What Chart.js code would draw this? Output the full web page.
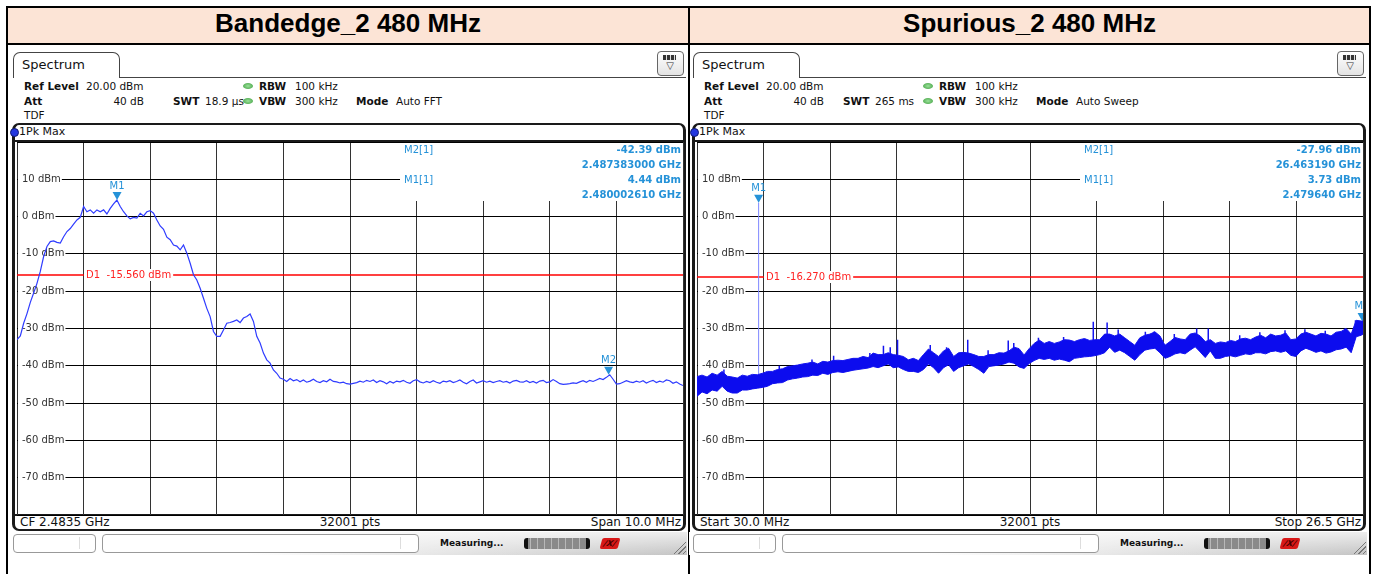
<!DOCTYPE html>
<html>
<head>
<meta charset="utf-8">
<script src="https://cdn.jsdelivr.net/npm/chart.js@4/dist/chart.umd.min.js"></script>
<style>
body { margin:0; background:#fff; width:1377px; height:574px; overflow:hidden; position:relative;
       font-family:"DejaVu Sans", Verdana, sans-serif; color:#111; }
canvas { position:absolute; }
</style>
</head>
<body>
<script>
// ---- y axis (dBm) ----
const yMin = -80, yMax = 20;
const yGridValues = [20, 10, 0, -10, -20, -30, -40, -50, -60, -70, -80];
const yLabelValues = [10, 0, -10, -20, -30, -40, -50, -60, -70];

// ---- Bandedge: 2.4785 .. 2.4885 GHz, levels every 0.05 MHz ----
const bandedgeStartGHz = 2.4785, bandedgeStopGHz = 2.4885;
const bandedgeLevel = [
  -33.0,-32.0,-28.6,-26.0,-23.0,-20.5,-17.9,-14.7,-10.7,-8.0,
  -6.7,-6.5,-6.9,-7.1,-5.4,-4.0,-3.2,-2.0,-0.9,-0.2,
  2.7,1.3,1.8,0.9,1.8,1.3,1.8,0.7,2.2,3.4,
  4.44,2.7,1.3,0.2,-0.6,-0.2,-0.4,0.9,0.2,1.3,
  1.6,0.9,-0.9,-2.5,-3.4,-5.5,-6.2,-7.6,-7.9,-8.9,
  -7.6,-9.8,-12.5,-15.6,-17.0,-19.2,-21.9,-24.6,-26.8,-30.8,
  -32.1,-32.1,-30.4,-28.6,-28.4,-28.1,-27.7,-28.4,-27.2,-26.8,
  -26.1,-28.1,-32.1,-33.9,-36.6,-38.4,-39.3,-41.1,-42.0,-43.3,
  -43.6,-44.2,-43.4,-44.0,-43.7,-44.3,-43.8,-44.4,-44.1,-43.6,
  -44.2,-44.5,-44.0,-44.3,-43.6,-44.2,-44.3,-44.6,-44.4,-44.8,
  -44.9,-44.7,-44.5,-44.1,-44.4,-43.9,-44.2,-43.8,-44.5,-44.0,
  -44.3,-44.8,-44.2,-44.6,-44.1,-44.3,-43.9,-44.4,-44.7,-44.0,
  -43.7,-44.3,-44.6,-44.2,-44.5,-44.0,-44.4,-44.7,-44.1,-44.3,
  -44.0,-44.5,-44.2,-43.8,-44.4,-44.8,-44.2,-43.8,-44.6,-44.3,
  -44.0,-44.4,-44.1,-44.5,-44.2,-44.0,-44.4,-44.2,-44.6,-44.1,
  -43.9,-44.3,-44.4,-44.0,-44.5,-44.2,-44.6,-44.1,-43.9,-44.5,
  -44.3,-43.7,-44.2,-44.8,-45.0,-44.9,-44.8,-44.6,-44.7,-44.3,
  -44.0,-44.4,-43.9,-44.2,-43.8,-43.4,-43.7,-43.1,-42.4,-43.6,
  -44.9,-44.8,-44.4,-44.0,-44.3,-44.5,-44.1,-44.4,-44.0,-44.6,
  -44.2,-43.9,-44.5,-44.1,-44.4,-43.8,-44.0,-44.7,-44.3,-44.9,
  -45.3
];
const bandedgeMarkerName = ['M1', 'M2'];
const bandedgeMarkerFreqGHz = [2.480002610, 2.487383000];
const bandedgeMarkerLevel = [4.44, -42.39];
const bandedgeD1 = -15.56;

// ---- Spurious: 30 MHz .. 26.5 GHz, trace envelope every 0.2 GHz ----
const spurStartGHz = 0.03, spurStopGHz = 26.5, spurStepGHz = 0.2;
const spurUpper = [
  -42.9,-42.5,-43.0,-42.0,-42.5,-41.5,-42.8,-43.0,-43.3,-42.5,
  -42.8,-42.3,-42.4,-42.0,-41.5,-41.5,-41.0,-40.8,-40.2,-40.0,
  -39.8,-39.5,-39.3,-39.0,-39.5,-38.8,-39.0,-38.6,-38.5,-38.6,
  -38.3,-38.0,-38.0,-37.5,-37.8,-36.6,-37.0,-37.0,-36.5,-37.0,
  -37.2,-37.5,-38.4,-38.0,-38.6,-37.0,-35.5,-36.5,-37.5,-36.0,
  -35.3,-37.5,-36.5,-36.4,-36.6,-37.0,-37.5,-37.5,-37.0,-37.0,
  -36.5,-36.6,-36.0,-35.0,-35.4,-37.1,-35.4,-34.0,-33.1,-34.0,
  -33.5,-34.0,-33.6,-33.0,-33.1,-33.5,-33.0,-32.7,-33.2,-33.0,
  -33.0,-31.5,-31.5,-32.0,-31.5,-32.5,-33.5,-34.5,-32.5,-31.8,
  -31.5,-30.9,-32.0,-34.5,-33.5,-32.4,-32.8,-33.0,-31.5,-31.2,
  -32.0,-33.5,-33.0,-34.0,-33.6,-33.8,-33.2,-33.5,-32.8,-32.6,
  -33.0,-32.3,-31.8,-32.5,-31.5,-32.0,-31.8,-31.2,-33.0,-32.8,
  -31.5,-31.0,-31.5,-32.0,-31.3,-31.5,-32.0,-31.0,-30.8,-30.0,
  -31.5,-27.8,-28.0,-27.9
];
const spurLower = [
  -48.2,-47.0,-47.5,-46.5,-46.8,-45.5,-46.8,-47.3,-47.3,-46.5,
  -46.5,-46.2,-46.0,-45.8,-45.5,-44.8,-44.6,-44.5,-43.8,-43.5,
  -43.3,-43.0,-42.9,-42.5,-42.6,-42.0,-42.3,-41.8,-41.6,-41.8,
  -41.5,-41.2,-41.0,-40.8,-40.6,-40.2,-40.5,-40.0,-39.5,-40.5,
  -40.3,-41.0,-41.5,-41.5,-41.8,-41.0,-39.5,-40.5,-42.0,-40.5,
  -39.7,-41.5,-40.5,-40.0,-39.5,-40.2,-41.0,-42.0,-40.2,-40.0,
  -39.8,-39.5,-39.0,-39.3,-40.3,-40.7,-39.4,-38.6,-38.0,-38.3,
  -38.0,-38.5,-38.2,-38.5,-38.9,-38.0,-37.8,-37.6,-37.5,-37.3,
  -37.0,-36.5,-35.0,-36.4,-35.8,-36.5,-37.5,-38.5,-37.0,-35.8,
  -35.5,-35.3,-36.5,-38.0,-37.5,-36.8,-36.5,-36.8,-35.8,-34.9,
  -36.3,-37.8,-36.0,-38.0,-38.0,-37.5,-37.3,-37.6,-37.2,-36.8,
  -37.0,-36.5,-36.5,-36.8,-36.2,-36.0,-36.4,-36.0,-37.2,-37.5,
  -36.0,-35.3,-35.8,-36.4,-36.0,-36.6,-36.3,-35.7,-35.5,-35.0,
  -36.5,-32.2,-31.8,-31.5
];
// narrow peaks sticking out of the noise band
const spurSpikeFreqGHz = [1.10, 3.30, 4.60, 5.46, 6.90, 7.44, 7.71, 8.00, 9.30, 9.95, 10.79, 11.60, 12.40, 12.62,
  13.60, 14.60, 15.78, 16.33, 16.77, 17.85, 18.20, 19.00, 19.89, 20.35, 21.60, 22.40, 23.40, 24.19, 25.00, 25.78, 26.20];
const spurSpikeLevel = [-41.0, -40.0, -38.3, -37.3, -36.6, -34.6, -35.0, -33.0, -34.4, -35.0, -33.0, -35.8, -33.2, -33.9,
  -32.5, -32.3, -28.2, -28.4, -30.3, -30.9, -30.8, -31.5, -30.0, -30.0, -31.8, -31.0, -30.5, -30.2, -30.6, -30.0, -27.8];
const spurCarrierFreqGHz = 2.479640, spurCarrierBase = -43.5;
const spurMarkerName = ['M1', 'M2'];
const spurMarkerFreqGHz = [2.479640, 26.463190];
const spurMarkerLevel = [3.73, -27.96];
const spurD1 = -16.27;

const MARK = '#2592d8';

// ---------- page helpers ----------
function el(css, text) {
  const e = document.createElement('div');
  e.style.cssText = 'position:absolute;' + css;
  if (text != null) e.textContent = text;
  document.body.appendChild(e);
  return e;
}
function txt(s, x, yc, o = {}) {
  let tr = o.right ? 'transform:translateX(-100%);' : (o.center ? 'transform:translateX(-50%);' : '');
  return el(`left:${x}px;top:${yc - 8}px;height:16px;line-height:16px;white-space:pre;font-size:${o.size || 10.5}px;` +
    `font-weight:${o.bold ? 'bold' : 'normal'};color:${o.color || '#111'};${tr}`, s);
}
function led(x, yc) {
  el(`left:${x - 5}px;top:${yc - 3}px;width:10px;height:6px;border-radius:50%;background:radial-gradient(#9be29b,#3a9a3a);`);
}

// table frame + titles
el('left:8px;top:8px;width:1361px;height:35px;background:#fce4d6;');
el('left:6px;top:6px;width:1365px;height:2px;background:#000;');
el('left:6px;top:43px;width:1365px;height:2px;background:#000;');
el('left:6px;top:6px;width:2px;height:568px;background:#000;');
el('left:688px;top:6px;width:2px;height:568px;background:#000;');
el('left:1369px;top:6px;width:2px;height:568px;background:#000;');
el('left:8px;top:8px;width:680px;height:35px;line-height:39px;text-align:center;font:bold 26px "Liberation Sans",Arial,sans-serif;color:#000;', 'Bandedge_2 480 MHz');
el('left:690px;top:8px;width:679px;height:35px;line-height:39px;text-align:center;font:bold 26px "Liberation Sans",Arial,sans-serif;color:#000;', 'Spurious_2 480 MHz');

function buildPanel(p) {
  const ox = p.ox;
  // tab + toolbar
  el(`left:${13 + ox}px;top:52px;width:105px;height:25px;border:1px solid #444;border-bottom:none;border-radius:7px 7px 0 0;background:#fff;`);
  txt('Spectrum', 22 + ox, 65, { size: 13 });
  el(`left:${119 + ox}px;top:77px;width:567px;height:1px;background:#444;`);
  el(`left:${657 + ox}px;top:51px;width:25px;height:23px;border:1px solid #666;border-radius:4px;background:linear-gradient(#fff,#e4e4e4);`);
  el(`left:${663 + ox}px;top:55px;width:13px;height:5px;background:repeating-linear-gradient(90deg,#333 0 3px,#ddd 3px 4px);`);
  el(`left:${664 + ox}px;top:60px;width:12px;height:12px;font-size:10px;line-height:12px;text-align:center;color:#333;`, '▽');

  // settings
  txt('Ref Level', 24 + ox, 86, { bold: true }); txt('20.00 dBm', 86 + ox, 86);
  led(248 + ox, 86); txt('RBW', 259 + ox, 86, { bold: true }); txt('100 kHz', 295 + ox, 86);
  txt('Att', 24 + ox, 101, { bold: true }); txt('40 dB', 144 + ox, 101, { right: true });
  txt('SWT', p.swtX, 101, { bold: true }); txt(p.swt, p.swtX + 32, 101);
  led(248 + ox, 101); txt('VBW', 259 + ox, 101, { bold: true }); txt('300 kHz', 295 + ox, 101);
  txt('Mode', 356 + ox, 101, { bold: true }); txt(p.mode, 396 + ox, 101);
  txt('TDF', 24 + ox, 115);

  // diagram frame
  el(`left:${12 + ox}px;top:123px;width:674px;height:408px;box-sizing:border-box;border:2px solid #1a1a1a;border-left-width:3px;border-right-width:3px;border-radius:7px;`);
  el(`left:${10 + ox}px;top:128px;width:7px;height:7px;border-radius:50%;background:#2438e0;border:1px solid #101a70;`);
  txt('1Pk Max', 19 + ox, 132, { size: 11 });
  el(`left:${15 + ox}px;top:140px;width:668px;height:2px;background:#1a1a1a;`);
  el(`left:${15 + ox}px;top:514px;width:668px;height:2px;background:#1a1a1a;`);
  txt(p.bl, 20 + ox, 522, { size: 12 });
  txt('32001 pts', 350 + ox, 522, { size: 12, center: true });
  txt(p.br, 681 + ox, 522, { size: 12, right: true });

  // status bar
  el(`left:${9 + ox}px;top:532px;width:678px;height:23px;background:linear-gradient(rgba(255,255,255,.7),rgba(255,255,255,0)),linear-gradient(90deg,#fff 35%,#c4c4c4);`);
  el(`left:${13 + ox}px;top:534px;width:81px;height:17px;border:1px solid #999;border-radius:4px;background:#fff;`);
  el(`left:${79 + ox}px;top:537px;width:1px;height:12px;background:#ddd;`);
  el(`left:${102 + ox}px;top:534px;width:315px;height:17px;border:1px solid #999;border-radius:4px;background:#fff;`);
  el(`left:${400 + ox}px;top:537px;width:1px;height:12px;background:#ddd;`);
  txt('Measuring...', 440 + ox, 543, { size: 9, bold: true });
  el(`left:${524 + ox}px;top:538px;width:66px;height:11px;border-radius:3px;background:linear-gradient(90deg,#111 0 4px,transparent 4px calc(100% - 4px),#111 calc(100% - 4px)),repeating-linear-gradient(90deg,#8a8a8a 0 6px,#b8b8b8 6px 7px);`);
  el(`left:${601 + ox}px;top:538px;width:18px;height:11px;background:#d81818;transform:skewX(-15deg);border-radius:2px;font:bold italic 8px "DejaVu Sans";color:#400;line-height:11px;text-align:center;`, '/X/');
  el(`left:${672 + ox}px;top:540px;width:14px;height:14px;background:repeating-linear-gradient(135deg,transparent 0 2px,#777 2px 3px);clip-path:polygon(100% 0,100% 100%,0 100%);`);

  const cv = document.createElement('canvas');
  cv.width = 670; cv.height = 377;
  cv.style.left = (15 + ox) + 'px'; cv.style.top = '140px';
  document.body.appendChild(cv);
  return cv;
}

// ---------- chart overlay: labels, display line, marker readout ----------
const rsOverlay = {
  id: 'rsOverlay',
  beforeDatasetsDraw(chart, args, o) {
    const { ctx, chartArea: a, scales: { x, y } } = chart;
    ctx.save();
    ctx.beginPath(); ctx.rect(a.left, a.top, a.right - a.left, a.bottom - a.top); ctx.clip();
    ctx.textBaseline = 'middle';
    // readout field hides the grid in the upper right
    const boxL = a.left + 383;
    ctx.fillStyle = '#fff';
    ctx.fillRect(boxL, a.top + 1, a.right - boxL, 58);
    // level labels on the left
    ctx.font = '10px "DejaVu Sans"';
    ctx.textAlign = 'left';
    yLabelValues.forEach(v => {
      const py = y.getPixelForValue(v), t = v + ' dBm';
      const w = ctx.measureText(t).width;
      ctx.fillStyle = '#fff'; ctx.fillRect(a.left + 1, py - 6, w + 5, 12);
      ctx.fillStyle = '#333'; ctx.fillText(t, a.left + 5, py);
    });
    // display line D1
    const dy = Math.round(y.getPixelForValue(o.d1));
    ctx.strokeStyle = '#ff0000'; ctx.lineWidth = 1.5;
    ctx.beginPath(); ctx.moveTo(a.left, dy); ctx.lineTo(a.right, dy); ctx.stroke();
    const dt = 'D1  ' + o.d1.toFixed(3) + ' dBm';
    const dx = a.left + 69, dw = ctx.measureText(dt).width;
    ctx.fillStyle = '#fff'; ctx.fillRect(dx - 2, dy - 6, dw + 4, 12);
    ctx.fillStyle = '#ff2222'; ctx.fillText(dt, dx, dy);
    // marker readout
    const rows = [];
    for (let i = o.names.length - 1; i >= 0; i--) {
      rows.push([o.names[i] + '[1]', o.levels[i].toFixed(2) + ' dBm']);
      rows.push(['', o.freqs[i].toFixed(o.fdig) + ' GHz']);
    }
    rows.forEach((r, k) => {
      const py = a.top + 8 + k * 15;
      ctx.fillStyle = MARK;
      ctx.textAlign = 'left'; ctx.font = '10px "DejaVu Sans"';
      if (r[0]) ctx.fillText(r[0], boxL + 4, py);
      ctx.textAlign = 'right'; ctx.font = 'bold 10px "DejaVu Sans"';
      ctx.fillText(r[1], a.right - 2, py);
    });
    ctx.restore();
  },
  afterDatasetsDraw(chart, args, o) {
    const { ctx, chartArea: a, scales: { x, y } } = chart;
    ctx.save();
    ctx.beginPath(); ctx.rect(a.left, a.top, a.right - a.left, a.bottom - a.top); ctx.clip();
    ctx.fillStyle = MARK; ctx.font = '10px "DejaVu Sans"';
    ctx.textAlign = 'center'; ctx.textBaseline = 'middle';
    o.names.forEach((n, i) => {
      const px = x.getPixelForValue(o.freqs[i]), py = y.getPixelForValue(o.levels[i]);
      ctx.beginPath();
      ctx.moveTo(px - 4.5, py - 8); ctx.lineTo(px + 4.5, py - 8); ctx.lineTo(px, py);
      ctx.closePath(); ctx.fill();
      ctx.fillText(n, px, py - 14);
    });
    ctx.restore();
  }
};

function scaleOpts(xmin, xmax) {
  const xs = [];
  for (let k = 0; k <= 10; k++) xs.push(xmin + (xmax - xmin) * k / 10);
  return {
    x: { type: 'linear', min: xmin, max: xmax,
         afterBuildTicks: ax => { ax.ticks = xs.map(v => ({ value: v })); },
         ticks: { display: false }, border: { display: false },
         grid: { color: '#333', lineWidth: 1, drawTicks: false } },
    y: { type: 'linear', min: yMin, max: yMax,
         afterBuildTicks: ax => { ax.ticks = yGridValues.map(v => ({ value: v })); },
         ticks: { display: false }, border: { display: false },
         grid: { color: '#000', lineWidth: 1, drawTicks: false } }
  };
}
function baseOptions(xmin, xmax, ov) {
  return {
    responsive: false, animation: false, devicePixelRatio: 1,
    layout: { padding: { left: 2, right: 2, top: 2, bottom: 2 } },
    elements: { point: { radius: 0 }, line: { tension: 0 } },
    scales: scaleOpts(xmin, xmax),
    plugins: { legend: { display: false }, tooltip: { enabled: false }, rsOverlay: ov }
  };
}

// ---------- left: Bandedge ----------
const cvL = buildPanel({ ox: 0, swtX: 173, swt: '18.9 µs', mode: 'Auto FFT', bl: 'CF 2.4835 GHz', br: 'Span 10.0 MHz' });
const bandStep = (bandedgeStopGHz - bandedgeStartGHz) / (bandedgeLevel.length - 1);
new Chart(cvL, {
  type: 'line',
  data: { datasets: [{
    data: bandedgeLevel.map((v, i) => ({ x: bandedgeStartGHz + i * bandStep, y: v })),
    borderColor: '#2f3cff', borderWidth: 1.2, fill: false
  }] },
  options: baseOptions(bandedgeStartGHz, bandedgeStopGHz,
    { d1: bandedgeD1, names: bandedgeMarkerName, freqs: bandedgeMarkerFreqGHz, levels: bandedgeMarkerLevel, fdig: 9 }),
  plugins: [rsOverlay]
});

// ---------- right: Spurious ----------
const cvR = buildPanel({ ox: 680, swtX: 843, swt: '265 ms', mode: 'Auto Sweep', bl: 'Start 30.0 MHz', br: 'Stop 26.5 GHz' });
const spurX = i => Math.min(spurStartGHz + i * spurStepGHz, spurStopGHz);
const spikePts = [];
spurSpikeFreqGHz.forEach((f, k) => {
  const i = Math.round((f - spurStartGHz) / spurStepGHz);
  spikePts.push({ x: f, y: spurLower[i] + 1 }, { x: f, y: spurSpikeLevel[k] }, { x: f, y: null });
});
new Chart(cvR, {
  type: 'line',
  data: { datasets: [
    { data: spurUpper.map((v, i) => ({ x: spurX(i), y: v })), borderColor: '#1414f0', borderWidth: 1,
      backgroundColor: '#0c0cee', fill: '+1' },
    { data: spurLower.map((v, i) => ({ x: spurX(i), y: v })), borderColor: '#1414f0', borderWidth: 1, fill: false },
    { data: spikePts, borderColor: '#1414f0', borderWidth: 1.5, fill: false, spanGaps: false },
    { data: [{ x: spurCarrierFreqGHz, y: spurCarrierBase }, { x: spurCarrierFreqGHz, y: spurMarkerLevel[0] }],
      borderColor: '#7d86ff', borderWidth: 1, fill: false }
  ] },
  options: baseOptions(spurStartGHz, spurStopGHz,
    { d1: spurD1, names: spurMarkerName, freqs: spurMarkerFreqGHz, levels: spurMarkerLevel, fdig: 6 }),
  plugins: [rsOverlay]
});
</script>
</body>
</html>
